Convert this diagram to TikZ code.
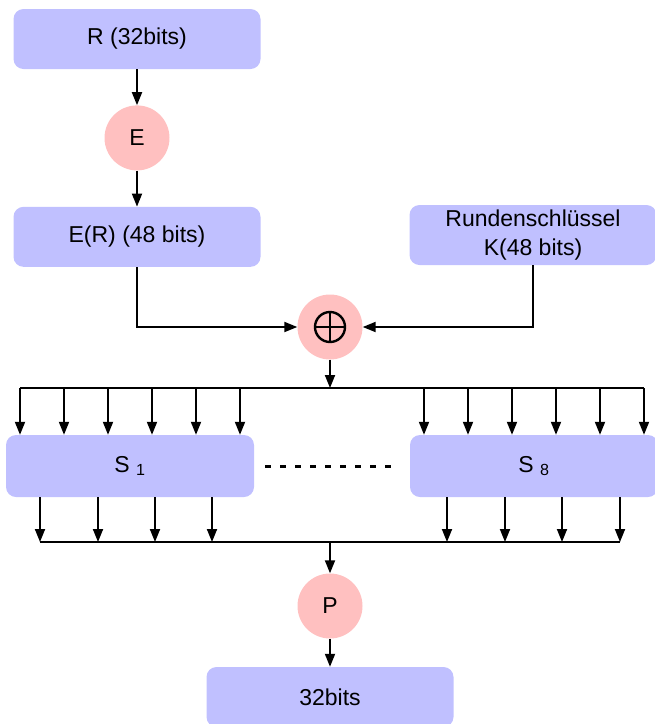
\documentclass[tikz,border=0pt]{standalone}
\usepackage{fontspec}
\setmainfont{Liberation Sans}
\usepackage{xcolor}
\usetikzlibrary{arrows.meta}
\usetikzlibrary{positioning}
\definecolor{boxblue}{RGB}{192,192,255}
\definecolor{roundred}{RGB}{255,192,192}

\begin{document}
\begin{tikzpicture}[
		x=1pt, y=1pt,
		node distance=36pt,
		font=\fontsize{23}{29}\selectfont,
		arrow/.style={line width=1.8pt, -{Triangle[length=13pt, width=10pt]}},
		bus/.style={line width=1.8pt},
		block/.style={fill=boxblue, rounded corners=10pt, minimum width=247pt, minimum height=60pt, align=center},
		sbox/.style={block, minimum width=248pt, minimum height=62pt},
		func/.style={circle, fill=roundred, minimum size=65pt, inner sep=0pt},
		xorsym/.style={path picture={
			\draw[line width=2.4pt] (path picture bounding box.center) circle (15pt);
			\draw[line width=2.4pt] ([yshift=-15pt]path picture bounding box.center) -- ([yshift=15pt]path picture bounding box.center);
			\draw[line width=2.4pt] ([xshift=-15pt]path picture bounding box.center) -- ([xshift=15pt]path picture bounding box.center);
		}},
	]
		\useasboundingbox (0,0) rectangle (655,-724);

		\node[block] (rhalf) at (137,-39) {R (32bits)};
		\node[func, below=of rhalf] (expansion) {E};
		\node[block, below=of expansion] (expanded) {E(R) (48 bits)};
		\node[block] (roundkey) at (533,-235) {Rundenschlüssel\\K(48 bits)};
		\node[func, xorsym] (xor) at (330,-327) {};

		\node[sbox] (sboxone) at (130,-466) {S \textsubscript{1}};
		\node[sbox] (sboxeight) at (534,-466) {S \textsubscript{8}};

		\node[func] (perm) at (330,-606) {P};
		\node[block] (output) at (330,-697) {32bits};

		\coordinate (busin) at (330,-388);
		\coordinate (inleft) at (20,-388);
		\coordinate (inright) at (644,-388);
		\coordinate (busout) at (330,-542);
		\coordinate (outleft) at (40,-542);
		\coordinate (outright) at (620,-542);

		\draw[arrow] (rhalf) -- (expansion);
		\draw[arrow] (expansion) -- (expanded);
		\draw[arrow] (expanded.south) |- (xor.west);
		\draw[arrow] (roundkey.south) |- (xor.east);
		\draw[arrow] (xor) -- (busin);

		% S-box inputs
		\draw[bus] (inleft) -- (inright);
		\foreach \dx in {-110,-66,-22,22,66,110} {
			\path ([xshift=\dx]sboxone.north) coordinate (tip);
			\draw[arrow] (tip |- busin) -- (tip);
			\path ([xshift=\dx]sboxeight.north) coordinate (tip);
			\draw[arrow] (tip |- busin) -- (tip);
		}

		\draw[line width=3pt, dash pattern=on 6pt off 9pt, shorten <=11pt, shorten >=12pt] (sboxone.east) -- (sboxeight.west);

		% S-box outputs
		\foreach \dx in {-90,-32,25,82} {
			\path ([xshift=\dx]sboxone.south) coordinate (tail);
			\draw[arrow] (tail) -- (tail |- busout);
		}
		\foreach \dx in {-87,-29,28,86} {
			\path ([xshift=\dx]sboxeight.south) coordinate (tail);
			\draw[arrow] (tail) -- (tail |- busout);
		}
		\draw[bus] (outleft) -- (outright);

		\draw[arrow] (busout) -- (perm);
		\draw[arrow] (perm) -- (output);
	\end{tikzpicture}
\end{document}
